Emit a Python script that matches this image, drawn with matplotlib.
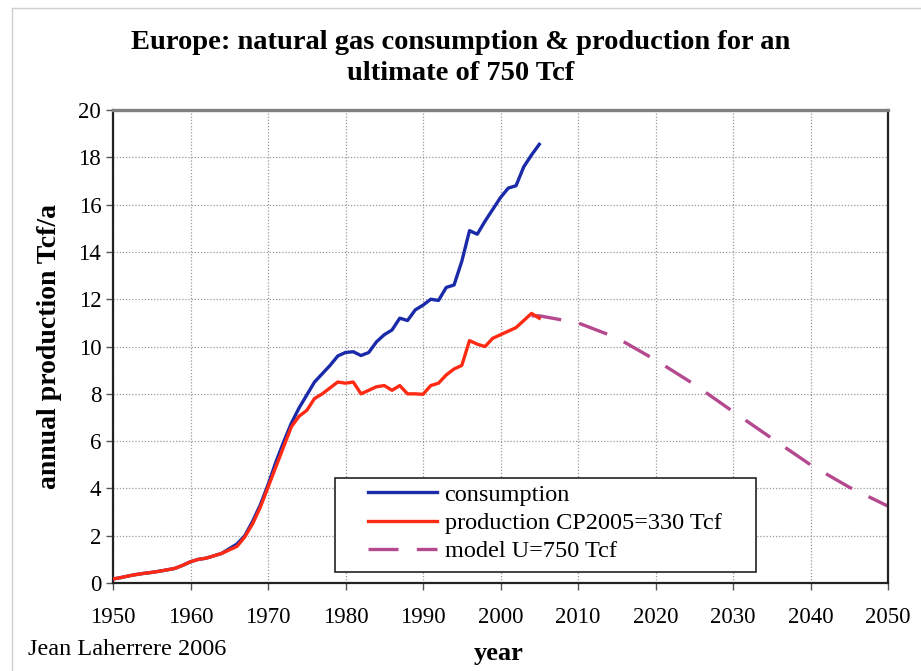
import matplotlib
matplotlib.use("Agg")
import matplotlib.pyplot as plt
from matplotlib.lines import Line2D
from matplotlib.patches import Rectangle

plt.rcParams['font.family'] = ['Liberation Serif', 'DejaVu Serif']

# consumption, Tcf/a
cons_years = list(range(1950, 2006))
cons_vals = [0.17, 0.23, 0.3, 0.36, 0.41, 0.45, 0.5, 0.56, 0.62, 0.75, 0.9,
             1.0, 1.05, 1.15, 1.25, 1.45, 1.65, 2.0, 2.6, 3.3, 4.15,
             5.1, 5.95, 6.75, 7.4, 7.95, 8.5, 8.85, 9.2, 9.6, 9.75,
             9.78, 9.62, 9.75, 10.2, 10.5, 10.7, 11.2, 11.1, 11.55, 11.75,
             12.0, 11.95, 12.5, 12.6, 13.6, 14.9, 14.75, 15.3, 15.8, 16.3,
             16.7, 16.8, 17.6, 18.1, 18.55]

# production
prod_years = list(range(1950, 2006))
prod_vals = [0.17, 0.23, 0.3, 0.36, 0.41, 0.45, 0.5, 0.56, 0.62, 0.75, 0.9,
             1.0, 1.05, 1.15, 1.25, 1.4, 1.55, 1.95, 2.5, 3.2, 4.05,
             4.9, 5.75, 6.6, 7.05, 7.3, 7.8, 8.0, 8.25, 8.5, 8.45,
             8.5, 8.0, 8.15, 8.3, 8.35, 8.15, 8.35, 8.0, 8.0, 7.98,
             8.35, 8.45, 8.8, 9.05, 9.2, 10.25, 10.1, 10.0, 10.35, 10.5,
             10.65, 10.8, 11.1, 11.4, 11.2]

# model for an ultimate of 750 Tcf
model_years = [2004, 2005, 2010, 2015, 2020, 2025, 2030, 2035, 2040, 2045, 2050]
model_vals = [11.3, 11.3, 11.0, 10.37, 9.43, 8.4, 7.25, 6.12, 5.0, 4.05, 3.25]

fig = plt.figure(figsize=(9.21, 6.71), dpi=100)
ax = fig.add_axes([0.1227, 0.1311, 0.8415, 0.7049])

ax.plot(cons_years, cons_vals, color='#1a2aa8', lw=2.4, label='consumption', zorder=3)
ax.plot(prod_years, prod_vals, color='#ff2a14', lw=2.4,
        label='production CP2005=330 Tcf', zorder=4)
ax.plot(model_years, model_vals, color='#b4498f', lw=2.4,
        linestyle=(0, (9, 5.5)), label='model U=750 Tcf', zorder=2)

ax.set_xlim(1950, 2050)
ax.set_ylim(0, 20)
ax.set_xticks(range(1950, 2051, 10))
ax.set_yticks(range(0, 21, 2))
ax.grid(True, color='#9a9a9a', linestyle=(0, (1, 1.5)), lw=0.9)
ax.tick_params(labelsize=16.5, direction='out', length=5, width=1,
               color='#555555')
ax.tick_params(axis='x', pad=12)

for side in ['left', 'bottom', 'right']:
    ax.spines[side].set_color('#222222')
    ax.spines[side].set_linewidth(1.6)
ax.spines['top'].set_color('#808080')
ax.spines['top'].set_linewidth(2.4)

ax.set_ylabel('annual production Tcf/a', fontsize=20, fontweight='bold', labelpad=12)

fig.suptitle('Europe: natural gas consumption & production for an\nultimate of 750 Tcf',
             fontsize=20.5, fontweight='bold', y=0.955, va='top', linespacing=1.3)

fig.text(0.541, 0.016, 'year', fontsize=19, fontweight='bold', ha='center')
fig.text(0.030, 0.024, 'Jean Laherrere 2006', fontsize=17.5)

# legend box
ax.add_patch(Rectangle((0.2865, 0.0233), 0.5432, 0.1987, transform=ax.transAxes,
                       facecolor='white', edgecolor='#222222', lw=1.2, zorder=5))
leg = ax.legend(loc='center left', bbox_to_anchor=(0.329, 0.1268), fontsize=17.5,
                frameon=False, handlelength=2.85, handletextpad=0.3,
                borderpad=0, labelspacing=0.25, borderaxespad=0)
leg.set_zorder(6)

# light frame around the figure
fig.add_artist(Line2D([0.013, 0.013], [0.0, 0.988], color='#d0d0d0', lw=1,
                      transform=fig.transFigure))
fig.add_artist(Line2D([0.013, 1.0], [0.988, 0.988], color='#d0d0d0', lw=1,
                      transform=fig.transFigure))

fig.savefig('out.png', dpi=100)
